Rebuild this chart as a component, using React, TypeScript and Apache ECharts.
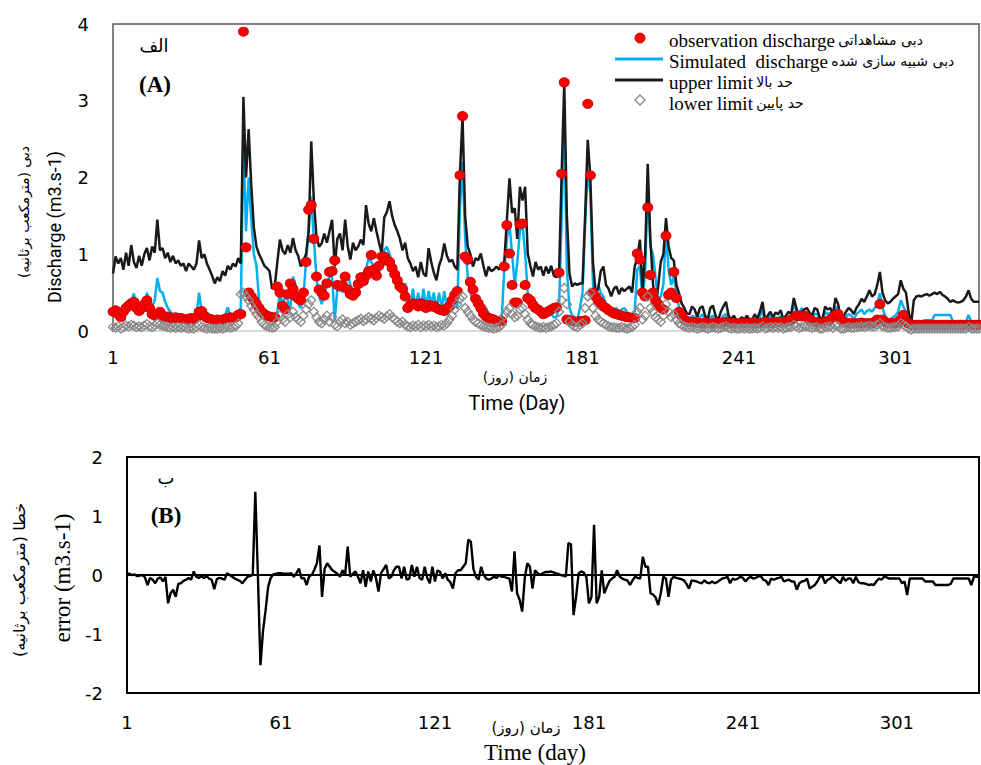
import React, { useEffect, useRef } from "react";
import * as echarts from "echarts";

const N = 333;
const days: string[] = Array.from({ length: N }, (_, i) => String(i + 1));
const xTicks = ["1", "61", "121", "181", "241", "301"];
const yTicksTop = [0, 1, 2, 3, 4];
const yTicksBottom = [-2, -1, 0, 1, 2];

// upper limit (black line)
const upperLimit = [
  0.75, 0.97, 0.88, 0.95, 0.80, 1.02, 0.85, 1.12, 0.90, 0.82,
  0.98, 0.85, 1.00, 1.08, 0.92, 1.10, 1.02, 1.45, 1.05, 1.08,
  0.95, 1.02, 0.90, 0.98, 0.88, 0.92, 0.85, 0.88, 0.78, 0.88,
  0.84, 0.80, 0.88, 1.18, 0.95, 1.00, 0.88, 0.80, 0.72, 0.62,
  0.70, 0.65, 0.78, 0.72, 0.85, 0.80, 0.88, 0.84, 0.95, 0.88,
  3.05, 2.00, 2.63, 1.90, 1.35, 1.10, 1.00, 0.93, 0.85, 0.82,
  0.78, 0.55, 0.58, 0.90, 1.19, 1.05, 1.00, 1.12, 1.02, 1.21,
  1.05, 0.98, 0.84, 0.92, 1.00, 1.30, 2.47, 1.70, 1.23, 1.10,
  1.14, 1.27, 1.15, 1.30, 1.45, 0.84, 1.20, 1.27, 1.05, 1.45,
  1.10, 0.93, 1.15, 1.05, 1.10, 1.19, 1.12, 1.64, 1.40, 1.30,
  1.47, 1.30, 1.15, 1.01, 1.48, 1.55, 1.69, 1.50, 1.38, 1.30,
  1.20, 1.05, 1.15, 0.95, 0.88, 0.78, 0.84, 0.70, 0.90, 0.75,
  0.71, 1.08, 0.90, 0.76, 0.66, 0.85, 0.95, 1.14, 0.98, 0.90,
  0.93, 0.84, 0.80, 2.05, 2.79, 1.50, 1.10, 1.00, 0.84, 0.95,
  0.92, 1.01, 0.85, 0.71, 0.84, 0.78, 0.80, 0.84, 0.80, 0.88,
  0.90, 1.45, 1.99, 1.54, 1.60, 1.20, 1.88, 1.70, 1.88, 1.01,
  0.85, 0.71, 0.90, 0.80, 0.84, 0.72, 0.84, 0.75, 0.85, 0.72,
  0.70, 0.75, 2.05, 3.23, 1.50, 0.75, 0.58, 0.62, 0.60, 0.62,
  0.62, 1.50, 2.49, 2.00, 0.90, 0.50, 0.55, 0.78, 0.84, 0.60,
  0.55, 0.45, 0.55, 0.58, 0.48, 0.56, 0.52, 0.55, 0.58, 0.50,
  0.84, 0.95, 1.19, 0.55, 1.00, 2.18, 1.20, 0.62, 0.35, 0.58,
  0.90, 1.00, 1.47, 1.10, 0.95, 0.92, 0.60, 0.49, 0.36, 0.30,
  0.23, 0.22, 0.32, 0.28, 0.18, 0.30, 0.32, 0.20, 0.15, 0.30,
  0.33, 0.20, 0.14, 0.25, 0.32, 0.38, 0.20, 0.15, 0.20, 0.14,
  0.14, 0.18, 0.15, 0.20, 0.15, 0.14, 0.22, 0.16, 0.25, 0.38,
  0.14, 0.20, 0.25, 0.18, 0.24, 0.22, 0.27, 0.15, 0.20, 0.25,
  0.22, 0.43, 0.30, 0.15, 0.25, 0.28, 0.30, 0.24, 0.20, 0.30,
  0.28, 0.17, 0.16, 0.32, 0.28, 0.30, 0.22, 0.43, 0.35, 0.16,
  0.18, 0.25, 0.30, 0.27, 0.22, 0.30, 0.35, 0.42, 0.38, 0.45,
  0.53, 0.45, 0.48, 0.60, 0.77, 0.50, 0.40, 0.36, 0.38, 0.42,
  0.45, 0.48, 0.66, 0.55, 0.50, 0.25, 0.10, 0.40, 0.45, 0.46,
  0.45, 0.47, 0.48, 0.46, 0.48, 0.50, 0.48, 0.51, 0.47, 0.45,
  0.42, 0.38, 0.40, 0.38, 0.37, 0.38, 0.40, 0.45, 0.53, 0.42,
  0.38, 0.38, 0.38,
];

// simulated discharge (blue line)
const simulated = [
  0.22, 0.25, 0.20, 0.24, 0.22, 0.28, 0.30, 0.38, 0.49, 0.30,
  0.28, 0.25, 0.30, 0.50, 0.38, 0.32, 0.40, 0.69, 0.52, 0.50,
  0.38, 0.30, 0.25, 0.22, 0.20, 0.20, 0.18, 0.20, 0.18, 0.17,
  0.18, 0.16, 0.20, 0.50, 0.25, 0.20, 0.18, 0.17, 0.16, 0.15,
  0.15, 0.16, 0.18, 0.20, 0.31, 0.18, 0.20, 0.22, 0.25, 0.30,
  2.50, 1.30, 2.00, 1.45, 1.00, 0.85, 0.40, 0.20, 0.15, 0.18,
  0.15, 0.12, 0.10, 0.25, 0.49, 0.35, 0.45, 0.40, 0.30, 0.71,
  0.60, 0.35, 0.30, 0.45, 0.90, 1.30, 1.75, 1.20, 0.70, 0.45,
  0.35, 0.50, 0.60, 0.71, 0.71, 0.14, 0.55, 0.60, 0.50, 0.70,
  0.75, 0.60, 0.50, 0.45, 0.55, 0.65, 0.75, 0.80, 0.95, 0.90,
  0.85, 0.80, 0.75, 0.90, 1.05, 1.10, 1.00, 0.90, 0.85, 0.70,
  0.60, 0.55, 0.62, 0.45, 0.30, 0.55, 0.30, 0.50, 0.28, 0.55,
  0.30, 0.52, 0.35, 0.50, 0.28, 0.50, 0.30, 0.52, 0.30, 0.42,
  0.30, 0.35, 0.30, 1.60, 2.20, 1.20, 0.70, 0.50, 0.40, 0.35,
  0.30, 0.28, 0.25, 0.30, 0.22, 0.20, 0.20, 0.18, 0.15, 0.15,
  0.80, 1.20, 1.40, 1.00, 0.60, 0.90, 1.30, 1.40, 1.00, 0.50,
  0.35, 0.30, 0.28, 0.32, 0.25, 0.20, 0.22, 0.20, 0.22, 0.18,
  0.18, 0.30, 1.50, 2.70, 0.80, 0.30, 0.20, 0.18, 0.15, 0.30,
  0.50, 1.40, 2.10, 1.80, 0.60, 0.45, 0.60, 0.50, 0.45, 0.35,
  0.30, 0.25, 0.28, 0.30, 0.25, 0.28, 0.30, 0.25, 0.20, 0.22,
  0.25, 0.80, 0.85, 0.40, 0.75, 1.90, 1.10, 1.00, 0.70, 0.40,
  0.45, 0.60, 1.30, 0.80, 0.60, 0.70, 0.50, 0.30, 0.25, 0.20,
  0.15, 0.14, 0.20, 0.18, 0.12, 0.18, 0.22, 0.14, 0.10, 0.18,
  0.20, 0.12, 0.10, 0.15, 0.20, 0.22, 0.12, 0.10, 0.12, 0.10,
  0.10, 0.12, 0.10, 0.14, 0.10, 0.10, 0.15, 0.12, 0.18, 0.28,
  0.10, 0.15, 0.20, 0.14, 0.18, 0.16, 0.20, 0.12, 0.15, 0.18,
  0.18, 0.36, 0.25, 0.22, 0.30, 0.25, 0.22, 0.18, 0.15, 0.22,
  0.22, 0.14, 0.12, 0.25, 0.22, 0.24, 0.18, 0.32, 0.26, 0.12,
  0.14, 0.18, 0.22, 0.20, 0.15, 0.22, 0.25, 0.28, 0.22, 0.26,
  0.28, 0.25, 0.30, 0.35, 0.49, 0.30, 0.20, 0.14, 0.15, 0.18,
  0.20, 0.25, 0.40, 0.32, 0.25, 0.12, 0.08, 0.12, 0.12, 0.12,
  0.12, 0.14, 0.14, 0.14, 0.14, 0.21, 0.21, 0.21, 0.21, 0.21,
  0.21, 0.21, 0.12, 0.12, 0.12, 0.12, 0.12, 0.12, 0.21, 0.12,
  0.12, 0.12, 0.12,
];

// observation discharge (red dots)
const observed = [
  0.25, 0.27, 0.22, 0.18, 0.25, 0.30, 0.33, 0.36, 0.38, 0.30,
  0.26, 0.30, 0.35, 0.40, 0.30, 0.22, 0.20, 0.22, 0.25, 0.20,
  0.18, 0.19, 0.17, 0.16, 0.18, 0.17, 0.17, 0.16, 0.15, 0.16,
  0.17, 0.15, 0.18, 0.25, 0.26, 0.20, 0.17, 0.16, 0.15, 0.14,
  0.15, 0.14, 0.15, 0.16, 0.17, 0.18, 0.17, 0.18, 0.21, 0.22,
  3.90, 1.09, 0.50, 0.45, 0.40, 0.35, 0.30, 0.25, 0.22, 0.20,
  0.19, 0.18, 0.18, 0.58, 0.50, 0.33, 0.28, 0.48, 0.62, 0.55,
  0.45, 0.42, 0.40, 0.50, 0.90, 1.58, 1.64, 1.20, 0.71, 0.54,
  0.50, 0.46, 0.62, 0.77, 0.78, 0.92, 0.60, 0.58, 0.60, 0.71,
  0.54, 0.48, 0.46, 0.50, 0.61, 0.70, 0.65, 0.72, 0.78, 0.99,
  0.80, 0.72, 0.85, 0.97, 0.97, 0.92, 0.90, 0.82, 0.74, 0.66,
  0.58, 0.55, 0.45, 0.30, 0.34, 0.36, 0.35, 0.32, 0.36, 0.34,
  0.30, 0.34, 0.32, 0.33, 0.30, 0.28, 0.27, 0.26, 0.30, 0.32,
  0.40, 0.47, 0.52, 2.03, 2.80, 0.97, 0.93, 0.64, 0.54, 0.42,
  0.36, 0.30, 0.23, 0.19, 0.17, 0.16, 0.15, 0.13, 0.12, 0.13,
  0.84, 1.38, 1.01, 0.60, 0.37, 0.37, 1.39, 1.40, 0.60, 0.43,
  0.40, 0.34, 0.30, 0.28, 0.25, 0.22, 0.24, 0.26, 0.28, 0.30,
  0.31, 0.76, 2.05, 3.24, 0.15, 0.14, 0.13, 0.12, 0.12, 0.13,
  0.13, 0.14, 2.96, 2.03, 0.50, 0.45, 0.40, 0.36, 0.32, 0.30,
  0.27, 0.25, 0.23, 0.22, 0.21, 0.20, 0.19, 0.18, 0.18, 0.17,
  0.17, 1.01, 0.93, 0.50, 0.45, 1.61, 0.73, 0.50, 0.40, 0.35,
  0.30, 0.28, 1.24, 0.47, 0.50, 0.77, 0.43, 0.25, 0.20, 0.15,
  0.13, 0.12, 0.12, 0.11, 0.11, 0.10, 0.10, 0.11, 0.10, 0.10,
  0.10, 0.11, 0.10, 0.10, 0.11, 0.12, 0.11, 0.10, 0.10, 0.10,
  0.10, 0.10, 0.11, 0.10, 0.10, 0.11, 0.10, 0.10, 0.10, 0.11,
  0.12, 0.11, 0.10, 0.10, 0.11, 0.12, 0.12, 0.11, 0.12, 0.13,
  0.15, 0.17, 0.20, 0.20, 0.19, 0.20, 0.18, 0.15, 0.13, 0.12,
  0.11, 0.11, 0.10, 0.12, 0.13, 0.15, 0.18, 0.21, 0.22, 0.15,
  0.12, 0.11, 0.10, 0.10, 0.10, 0.10, 0.10, 0.11, 0.10, 0.10,
  0.10, 0.10, 0.12, 0.15, 0.35, 0.15, 0.12, 0.10, 0.10, 0.10,
  0.10, 0.12, 0.15, 0.21, 0.12, 0.10, 0.08, 0.08, 0.08, 0.08,
  0.08, 0.08, 0.08, 0.08, 0.08, 0.08, 0.08, 0.08, 0.08, 0.08,
  0.08, 0.08, 0.08, 0.08, 0.08, 0.08, 0.08, 0.08, 0.08, 0.08,
  0.08, 0.08, 0.08,
];

// lower limit (grey hollow diamonds)
const lowerLimit = [
  0.05, 0.04, 0.06, 0.03, 0.05, 0.07, 0.06, 0.08, 0.07, 0.05,
  0.06, 0.05, 0.07, 0.09, 0.06, 0.05, 0.07, 0.10, 0.08, 0.07,
  0.06, 0.05, 0.04, 0.05, 0.04, 0.05, 0.04, 0.05, 0.04, 0.03,
  0.04, 0.03, 0.05, 0.08, 0.05, 0.04, 0.03, 0.04, 0.03, 0.03,
  0.03, 0.04, 0.03, 0.04, 0.05, 0.04, 0.05, 0.06, 0.10, 0.48,
  0.50, 0.45, 0.40, 0.33, 0.28, 0.22, 0.18, 0.12, 0.08, 0.06,
  0.05, 0.04, 0.05, 0.12, 0.20, 0.15, 0.12, 0.22, 0.18, 0.25,
  0.18, 0.15, 0.12, 0.20, 0.28, 0.35, 0.40, 0.25, 0.18, 0.12,
  0.10, 0.15, 0.20, 0.12, 0.18, 0.08, 0.06, 0.12, 0.15, 0.10,
  0.12, 0.08, 0.10, 0.12, 0.14, 0.16, 0.13, 0.15, 0.18, 0.16,
  0.14, 0.17, 0.20, 0.18, 0.16, 0.19, 0.22, 0.18, 0.15, 0.12,
  0.10, 0.12, 0.08, 0.06, 0.05, 0.07, 0.06, 0.08, 0.05, 0.07,
  0.06, 0.08, 0.06, 0.07, 0.05, 0.06, 0.08, 0.07, 0.10, 0.15,
  0.20, 0.28, 0.35, 0.42, 0.45, 0.30, 0.25, 0.20, 0.15, 0.12,
  0.10, 0.08, 0.06, 0.05, 0.04, 0.04, 0.03, 0.04, 0.05, 0.08,
  0.20, 0.25, 0.30, 0.22, 0.18, 0.20, 0.28, 0.30, 0.22, 0.15,
  0.10, 0.08, 0.06, 0.05, 0.04, 0.05, 0.04, 0.05, 0.06, 0.08,
  0.10, 0.25, 0.40, 0.56, 0.35, 0.12, 0.08, 0.06, 0.05, 0.08,
  0.10, 0.30, 0.45, 0.50, 0.30, 0.20, 0.15, 0.12, 0.10, 0.08,
  0.06, 0.05, 0.05, 0.04, 0.04, 0.05, 0.04, 0.03, 0.04, 0.05,
  0.08, 0.25, 0.30, 0.15, 0.20, 0.45, 0.30, 0.25, 0.18, 0.15,
  0.12, 0.20, 0.35, 0.25, 0.18, 0.22, 0.15, 0.10, 0.08, 0.06,
  0.05, 0.04, 0.05, 0.04, 0.03, 0.04, 0.05, 0.04, 0.03, 0.04,
  0.05, 0.04, 0.03, 0.04, 0.05, 0.06, 0.04, 0.03, 0.04, 0.03,
  0.03, 0.04, 0.03, 0.04, 0.03, 0.03, 0.04, 0.03, 0.04, 0.06,
  0.03, 0.04, 0.05, 0.04, 0.05, 0.04, 0.05, 0.03, 0.04, 0.05,
  0.05, 0.08, 0.06, 0.04, 0.05, 0.06, 0.06, 0.05, 0.04, 0.05,
  0.05, 0.03, 0.03, 0.05, 0.05, 0.06, 0.04, 0.07, 0.06, 0.03,
  0.03, 0.04, 0.05, 0.04, 0.04, 0.05, 0.05, 0.06, 0.05, 0.06,
  0.07, 0.06, 0.06, 0.08, 0.10, 0.06, 0.05, 0.04, 0.04, 0.05,
  0.05, 0.06, 0.10, 0.08, 0.06, 0.03, 0.02, 0.03, 0.03, 0.03,
  0.03, 0.03, 0.03, 0.03, 0.03, 0.03, 0.03, 0.03, 0.03, 0.03,
  0.03, 0.03, 0.03, 0.03, 0.03, 0.03, 0.03, 0.03, 0.05, 0.03,
  0.03, 0.03, 0.03,
];

// error (bottom chart)
const errorValues = [
  0.02, 0.02, 0.00, 0.01, -0.02, -0.01, 0.00, -0.04, -0.17, -0.05,
  -0.08, -0.14, -0.06, -0.04, -0.11, -0.03, -0.48, -0.31, -0.25, -0.37,
  -0.15, -0.14, -0.10, -0.08, -0.05, -0.08, 0.06, -0.03, -0.05, -0.02,
  -0.05, -0.02, -0.06, -0.08, -0.24, -0.07, -0.05, -0.06, -0.08, 0.03,
  0.00, -0.03, -0.06, -0.08, -0.10, -0.14, -0.08, -0.03, -0.02, 0.00,
  1.41, 0.00, -1.53, -0.95, -0.60, -0.20, -0.05, 0.01, 0.02, 0.03,
  0.03, 0.02, 0.02, 0.02, 0.03, -0.03, 0.03, 0.11, -0.06, -0.05,
  -0.17, -0.02, 0.00, 0.09, 0.20, 0.50, -0.37, 0.10, 0.20, 0.14,
  0.08, 0.05, 0.02, -0.03, 0.08, 0.00, 0.48, -0.03, 0.02, 0.06,
  -0.03, -0.14, 0.08, -0.20, 0.06, -0.11, 0.08, -0.05, -0.28, 0.03,
  0.10, 0.17, -0.06, -0.03, 0.08, 0.14, 0.14, -0.06, 0.14, -0.08,
  -0.06, 0.17, -0.03, 0.14, -0.05, -0.08, 0.14, -0.05, -0.14, 0.14,
  -0.11, 0.08, 0.05, -0.06, 0.03, -0.08, -0.12, -0.23, 0.03, 0.08,
  0.08, 0.14, 0.20, 0.60, 0.56, 0.10, -0.03, -0.08, 0.14, 0.00,
  -0.06, -0.08, -0.06, -0.03, -0.05, 0.00, -0.03, -0.03, -0.05, -0.06,
  -0.28, 0.40, -0.31, -0.42, -0.62, -0.05, 0.20, 0.14, -0.23, 0.08,
  0.03, 0.00, 0.03, 0.05, 0.05, 0.06, 0.05, 0.03, 0.02, 0.00,
  -0.01, -0.03, 0.54, 0.52, -0.68, -0.37, 0.03, 0.06, 0.04, -0.03,
  -0.48, -0.37, 0.85, -0.48, -0.37, 0.08, -0.31, -0.20, -0.10, -0.06,
  -0.03, 0.08, -0.03, -0.06, -0.08, -0.09, -0.17, -0.09, -0.03, -0.05,
  -0.06, 0.31, 0.14, 0.14, -0.31, -0.33, -0.38, -0.51, -0.31, -0.03,
  -0.06, -0.37, -0.08, -0.03, -0.05, -0.06, -0.07, -0.09, -0.15, -0.23,
  -0.09, -0.10, -0.11, -0.13, -0.14, -0.09, -0.13, -0.14, -0.11, -0.14,
  -0.12, -0.09, -0.06, -0.05, -0.03, -0.14, -0.06, -0.08, -0.06, -0.03,
  -0.05, -0.11, -0.06, -0.03, -0.06, -0.05, -0.02, -0.02, -0.08, -0.10,
  -0.17, -0.06, -0.08, -0.06, -0.05, -0.03, -0.11, -0.09, -0.08, -0.11,
  -0.11, -0.25, -0.14, -0.11, -0.10, -0.06, -0.23, -0.20, -0.17, -0.11,
  -0.03, -0.02, -0.14, -0.08, -0.06, -0.02, -0.06, -0.10, -0.14, -0.03,
  -0.10, -0.06, -0.06, -0.14, -0.03, -0.12, -0.14, -0.14, -0.15, -0.17,
  -0.16, -0.17, -0.11, -0.06, -0.08, -0.03, -0.04, -0.06, -0.06, -0.06,
  -0.06, -0.06, -0.14, -0.11, -0.34, -0.06, -0.06, -0.06, -0.06, -0.06,
  -0.06, -0.11, -0.11, -0.11, -0.11, -0.17, -0.17, -0.17, -0.17, -0.17,
  -0.17, -0.15, -0.06, -0.06, -0.06, -0.06, -0.06, -0.06, -0.06, -0.17,
  -0.03, -0.03, -0.03,
];

const legendEnglish = ["observation discharge", "Simulated  discharge", "upper limit", "lower limit"];
const legendPersian = ["دبی مشاهداتی", "دبی شبیه سازی شده", "حد بالا", "حد پایین"];

const RED = "#ff0000";
const BLUE = "#00b0f0";
const BLACK = "#1a1a1a";
const GREY = "#8a8a8a";
const TICK_FONT = "DejaVu Sans";
const SERIF = "Liberation Serif, DejaVu Sans";
const ARABIC = "DejaVu Sans";

function txt(x: number, y: number, text: string, fontSize: number, fontFamily: string, extra: any = {}, rotation = 0, align = "center") {
  return {
    type: "text",
    x,
    y,
    rotation,
    silent: true,
    style: {
      text,
      fill: "#000",
      fontSize,
      fontFamily,
      align,
      verticalAlign: "middle",
      ...extra,
    },
  };
}

export default function App() {
  const ref = useRef<HTMLDivElement>(null);

  useEffect(() => {
    if (!ref.current) return;
    const chart = echarts.init(ref.current, undefined, { renderer: "svg" });

    const legendX = 669;
    const legendY = [40, 61, 82, 103];

    const legendTexts = legendEnglish.map((en, i) => ({
      type: "text",
      x: legendX,
      y: legendY[i],
      silent: true,
      style: {
        text: `{en|${en}} {fa|${legendPersian[i]}}`,
        align: "left",
        verticalAlign: "middle",
        fill: "#000",
        rich: {
          en: { fontSize: 19, fontFamily: SERIF, fill: "#000", lineHeight: 18 },
          fa: { fontSize: 14, fontFamily: ARABIC, fill: "#000", lineHeight: 18 },
        },
      },
    }));

    const graphic: any[] = [
      // panel A labels
      txt(154, 45, "الف", 18, ARABIC),
      txt(155, 84, "(A)", 23, SERIF, { fontWeight: "bold" }),
      // legend
      { type: "circle", silent: true, shape: { cx: 640, cy: 38, r: 5 }, style: { fill: RED, stroke: "#d00000", lineWidth: 1 } },
      { type: "line", silent: true, shape: { x1: 615, y1: 59, x2: 663, y2: 59 }, style: { stroke: BLUE, lineWidth: 3 } },
      { type: "line", silent: true, shape: { x1: 615, y1: 80, x2: 663, y2: 80 }, style: { stroke: BLACK, lineWidth: 3 } },
      {
        type: "polygon",
        silent: true,
        shape: { points: [[640, 95], [645, 100], [640, 105], [635, 100]] },
        style: { fill: "#fff", stroke: GREY, lineWidth: 1.3 },
      },
      ...legendTexts,
      // axis titles top
      txt(24, 212, "دبی (مترمکعب برثانیه)\u200F", 14, ARABIC, {}, Math.PI / 2),
      txt(54, 227, "Discharge (m3.s-1)", 18, "Roboto", {}, Math.PI / 2),
      txt(515, 377, "زمان (روز)\u200F", 14, ARABIC),
      txt(517, 403, "Time (Day)", 20, "Roboto"),
      // panel B labels
      txt(166, 477, "ب", 18, ARABIC),
      txt(166, 515, "(B)", 23, SERIF, { fontWeight: "bold" }),
      txt(19, 580, "خطا (مترمکعب برثانیه)\u200F", 16, ARABIC, {}, Math.PI / 2),
      txt(62, 578, "error (m3.s-1)", 23, SERIF, {}, Math.PI / 2),
      txt(526, 728, "زمان (روز)\u200F", 15, ARABIC),
      txt(535, 752, "Time (day)", 23, SERIF),
    ];

    const labelFn = (_idx: number, val: string) => xTicks.includes(val);

    chart.setOption({
      animation: false,
      backgroundColor: "#fff",
      grid: [
        { left: 113, top: 24, width: 866, height: 307, show: true, borderColor: "#595959", borderWidth: 1.5 },
        { left: 127, top: 457, width: 852, height: 236, show: true, borderColor: "#000", borderWidth: 2 },
      ],
      xAxis: [
        {
          type: "category",
          gridIndex: 0,
          data: days,
          boundaryGap: false,
          axisLine: { lineStyle: { color: "#d9d9d9", width: 2 } },
          axisTick: { show: false },
          splitLine: { show: false },
          axisLabel: { interval: labelFn, margin: 17, fontFamily: TICK_FONT, fontSize: 18, color: "#000", hideOverlap: false },
        },
        {
          type: "category",
          gridIndex: 1,
          data: days,
          boundaryGap: false,
          axisLine: { lineStyle: { color: "#000", width: 2 } },
          axisTick: { show: false },
          splitLine: { show: false },
          axisLabel: { interval: labelFn, margin: 20, fontFamily: TICK_FONT, fontSize: 18, color: "#000", hideOverlap: false },
        },
      ],
      yAxis: [
        {
          type: "value",
          gridIndex: 0,
          min: yTicksTop[0],
          max: yTicksTop[yTicksTop.length - 1],
          interval: 1,
          axisLine: { show: false },
          axisTick: { show: false },
          splitLine: { show: false },
          axisLabel: { margin: 24, fontFamily: TICK_FONT, fontSize: 18, color: "#000" },
        },
        {
          type: "value",
          gridIndex: 1,
          min: yTicksBottom[0],
          max: yTicksBottom[yTicksBottom.length - 1],
          interval: 1,
          axisLine: { show: false },
          axisTick: { show: false },
          splitLine: { show: false },
          axisLabel: { margin: 24, fontFamily: TICK_FONT, fontSize: 18, color: "#000" },
        },
      ],
      series: [
        {
          name: "simulated",
          type: "line",
          xAxisIndex: 0,
          yAxisIndex: 0,
          data: simulated,
          showSymbol: false,
          symbol: "none",
          lineStyle: { color: BLUE, width: 2.5 },
          z: 2,
        },
        {
          name: "upper",
          type: "line",
          xAxisIndex: 0,
          yAxisIndex: 0,
          data: upperLimit,
          showSymbol: false,
          symbol: "none",
          lineStyle: { color: BLACK, width: 2.5 },
          z: 3,
        },
        {
          name: "observed",
          type: "scatter",
          xAxisIndex: 0,
          yAxisIndex: 0,
          data: observed,
          symbol: "circle",
          symbolSize: [10, 9],
          itemStyle: { color: RED, borderColor: "#d40000", borderWidth: 1, opacity: 1 },
          z: 4,
        },
        {
          name: "lower",
          type: "scatter",
          xAxisIndex: 0,
          yAxisIndex: 0,
          data: lowerLimit,
          symbol: "diamond",
          symbolSize: [9, 9],
          itemStyle: { color: "rgba(255,255,255,0)", borderColor: GREY, borderWidth: 1.3, opacity: 1 },
          z: 5,
        },
        {
          name: "error",
          type: "line",
          xAxisIndex: 1,
          yAxisIndex: 1,
          data: errorValues,
          showSymbol: false,
          symbol: "none",
          lineStyle: { color: "#000", width: 2.4 },
        },
      ],
      graphic,
    });

    return () => chart.dispose();
  }, []);

  return (
    <div
      ref={ref}
      style={{ position: "absolute", left: 0, top: 0, width: 981, height: 765, background: "#fff" }}
    />
  );
}
